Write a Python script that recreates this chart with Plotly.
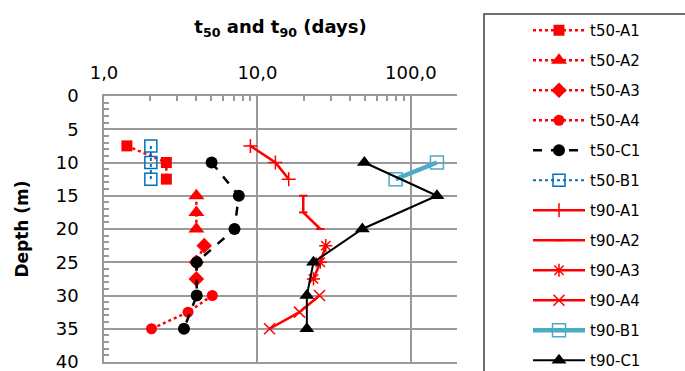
import plotly.graph_objects as go

# ---- data (value in days, depth in m) ----
t50_A1_depth = [7.5, 10, 12.5]
t50_A1_val = [1.41, 2.55, 2.55]
t50_A2_depth = [15, 17.5, 20]
t50_A2_val = [4.0, 4.0, 4.0]
t50_A3_depth = [22.5, 25, 27.5]
t50_A3_val = [4.5, 4.0, 4.0]
t50_A4_depth = [30, 32.5, 35]
t50_A4_val = [5.08, 3.53, 2.04]
t50_C1_depth = [10, 15, 20, 25, 30, 35]
t50_C1_val = [5.03, 7.56, 7.09, 4.02, 4.02, 3.32]
t50_B1_depth = [7.5, 10, 12.5]
t50_B1_val = [2.02, 2.02, 2.02]
t90_A1_depth = [7.5, 10, 12.5]
t90_A1_val = [9.0, 13.1, 16.0]
t90_A2_depth = [15, 17.5, 20]
t90_A2_val = [19.9, 19.9, 25.7]
t90_A3_depth = [22.5, 25, 27.5]
t90_A3_val = [27.9, 25.7, 23.2]
t90_A4_depth = [30, 32.5, 35]
t90_A4_val = [25.4, 18.8, 12.0]
t90_B1_depth = [10, 12.5]
t90_B1_val = [148, 79.6]
t90_C1_depth = [10, 15, 20, 25, 30, 35]
t90_C1_val = [49.8, 148, 48.3, 23.2, 21.0, 21.0]

x_tickvals = [1, 10, 100]
x_ticktext = ["1,0", "10,0", "100,0"]
x_minor_tickvals = [2, 3, 4, 5, 6, 7, 8, 9, 20, 30, 40, 50, 60, 70, 80, 90, 200]
y_tickvals = [0, 5, 10, 15, 20, 25, 30, 35, 40]

RED = "#FF0000"
FONT = "DejaVu Sans"

series = [
    ("t50-A1", t50_A1_val, t50_A1_depth, dict(color=RED, width=2.5, dash="dot"),
     dict(symbol="square", size=11, color=RED)),
    ("t50-A2", t50_A2_val, t50_A2_depth, dict(color=RED, width=2.5, dash="dot"),
     dict(symbol="triangle-up", size=14, color=RED)),
    ("t50-A3", t50_A3_val, t50_A3_depth, dict(color=RED, width=2.5, dash="dot"),
     dict(symbol="diamond", size=12, color=RED)),
    ("t50-A4", t50_A4_val, t50_A4_depth, dict(color=RED, width=2.5, dash="dot"),
     dict(symbol="circle", size=11, color=RED)),
    ("t50-C1", t50_C1_val, t50_C1_depth, dict(color="black", width=2.5, dash="dash"),
     dict(symbol="circle", size=12, color="black")),
    ("t50-B1", t50_B1_val, t50_B1_depth, dict(color="#0070C0", width=2, dash="dot"),
     dict(symbol="square-open", size=12, color="#0070C0", line=dict(width=1.5))),
    ("t90-A1", t90_A1_val, t90_A1_depth, dict(color=RED, width=2.5),
     dict(symbol="cross-thin-open", size=10, color=RED, line=dict(width=1.5, color=RED))),
    ("t90-A2", t90_A2_val, t90_A2_depth, dict(color=RED, width=2.5),
     dict(symbol="line-ew-open", size=6, color=RED, line=dict(width=2, color=RED))),
    ("t90-A3", t90_A3_val, t90_A3_depth, dict(color=RED, width=2.5),
     dict(symbol="asterisk-open", size=11, color=RED, line=dict(width=1.5, color=RED))),
    ("t90-A4", t90_A4_val, t90_A4_depth, dict(color=RED, width=2.5),
     dict(symbol="x-thin-open", size=11, color=RED, line=dict(width=1.5, color=RED))),
    ("t90-B1", t90_B1_val, t90_B1_depth, dict(color="#4BACC6", width=4.5),
     dict(symbol="square-open", size=13, color="#4BACC6", line=dict(width=1.5, color="#4BACC6"))),
    ("t90-C1", t90_C1_val, t90_C1_depth, dict(color="black", width=2),
     dict(symbol="triangle-up", size=13, color="black")),
]

fig = go.Figure()
for name, xv, yv, line, marker in series:
    fig.add_trace(go.Scatter(x=xv, y=yv, name=name, mode="lines+markers",
                             line=line, marker=marker, legendgroup=name))

GRID = "#9a9a9a"
fig.update_layout(
    width=685, height=371,
    margin=dict(l=104, r=228, t=96, b=9, autoexpand=False),
    plot_bgcolor="white", paper_bgcolor="white",
    font=dict(family=FONT, color="black"),
    showlegend=True,
    legend=dict(
        x=(484 - 104) / 353, xanchor="left",
        y=1 + (96 - 14) / 266, yanchor="top",
        bgcolor="rgba(0,0,0,0)", borderwidth=0,
        font=dict(family=FONT, size=15, color="black"),
        itemwidth=52, indentation=44,
        tracegroupgap=7.5, traceorder="grouped",
        maxheight=500,
    ),
    xaxis=dict(
        type="log", range=[0, 2.301], side="top",
        tickvals=x_tickvals, ticktext=x_ticktext,
        tickfont=dict(size=18, family=FONT),
        ticks="inside", ticklen=5, tickcolor=GRID, tickwidth=1.5,
        showgrid=True, gridcolor=GRID, gridwidth=1.5,
        showline=True, linecolor=GRID, linewidth=1.5, mirror=True,
        ticklabelstandoff=8,
        minor=dict(tickvals=x_minor_tickvals, ticks="inside", ticklen=5,
                   tickcolor=GRID, tickwidth=1.5, showgrid=False),
        title=dict(text="<b>t<sub>50</sub> and t<sub>90</sub> (days)</b>",
                   font=dict(size=18, family=FONT), standoff=24),
        zeroline=False,
    ),
    yaxis=dict(
        range=[40, 0], tickvals=y_tickvals,
        tickfont=dict(size=18, family=FONT),
        ticks="inside", ticklen=6, tickcolor=GRID, tickwidth=1.5,
        showgrid=True, gridcolor=GRID, gridwidth=1.5,
        showline=True, linecolor=GRID, linewidth=1.5,
        ticklabelstandoff=20, ticklabeloverflow="allow",
        minor=dict(ticks="inside", ticklen=5, dtick=1, tickcolor=GRID, tickwidth=1.5, showgrid=False),
        title=dict(text="<b>Depth (m)</b>", font=dict(size=17, family=FONT), standoff=23),
        zeroline=False,
    ),
    shapes=[dict(type="rect", xref="paper", yref="paper",
                 x0=(484 - 104) / 353, x1=(700 - 104) / 353,
                 y0=-0.2, y1=1 + (96 - 14) / 266,
                 line=dict(color="#404040", width=1.5), fillcolor="rgba(0,0,0,0)",
                 layer="above")],
)

fig.write_html("out.html", config={"displayModeBar": False},
               post_script="document.body.style.margin='0';document.body.style.overflow='hidden';")
